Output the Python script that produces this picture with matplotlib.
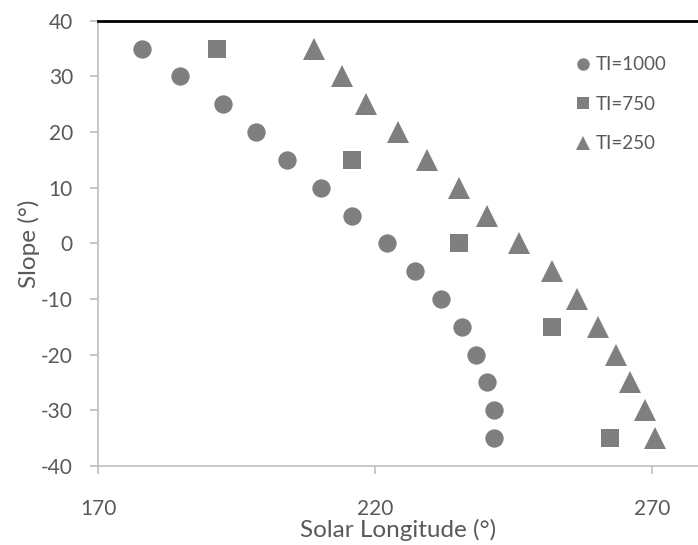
import matplotlib.pyplot as plt

plt.rcParams['font.family'] = ['Lato', 'DejaVu Sans']
plt.rcParams['axes.unicode_minus'] = False

slope = [35, 30, 25, 20, 15, 10, 5, 0, -5, -10, -15, -20, -25, -30, -35]
ls_1000 = [178.0, 184.8, 192.6, 198.5, 204.2, 210.2, 215.8, 222.2, 227.2,
           231.9, 235.7, 238.3, 240.3, 241.4, 241.4]
slope_750 = [35, 15, 0, -15, -35]
ls_750 = [191.4, 215.8, 235.2, 252.0, 262.4]
ls_250 = [208.9, 214.0, 218.3, 224.2, 229.3, 235.2, 240.2, 246.0, 252.0,
          256.4, 260.2, 263.5, 266.1, 268.8, 270.5]

grey = '#7f7f7f'
txt = '#595959'

fig = plt.figure(figsize=(6.98, 5.45), dpi=100)
ax = fig.add_axes([0.1404, 0.145, 0.8596, 0.817])

ax.plot(ls_1000, slope, 'o', color=grey, ms=13.2, mew=0, label='TI=1000')
ax.plot(ls_750, slope_750, 's', color=grey, ms=13.2, mew=0, label='TI=750')
ax.plot(ls_250, slope, '^', color=grey, ms=15.5, mew=0, label='TI=250')

ax.set_xlim(170, 278.3)
ax.set_ylim(-40, 40)
ax.set_xticks([170, 220, 270])
ax.set_yticks(range(-40, 41, 10))

for s in ['left', 'bottom']:
    ax.spines[s].set_color('#bfbfbf')
    ax.spines[s].set_linewidth(1.2)
ax.spines['right'].set_visible(False)
ax.spines['top'].set_color('black')
ax.spines['top'].set_linewidth(2)
ax.tick_params(colors='#bfbfbf', labelcolor=txt, labelsize=15, length=6, width=1.2)
ax.tick_params(axis='x', pad=18)
ax.tick_params(axis='y', pad=12)

ax.set_xlabel('Solar Longitude (°)', color=txt, fontsize=17.5, labelpad=0)
ax.set_ylabel('Slope (°)', color=txt, fontsize=17.5, labelpad=1)

leg = ax.legend(loc='upper left', bbox_to_anchor=(0.765, 0.958), frameon=False,
                fontsize=13.5, handletextpad=0.15, labelspacing=1.2,
                markerscale=0.68, handlelength=1.0)
for t in leg.get_texts():
    t.set_color(txt)

fig.savefig('out.png', dpi=100)
